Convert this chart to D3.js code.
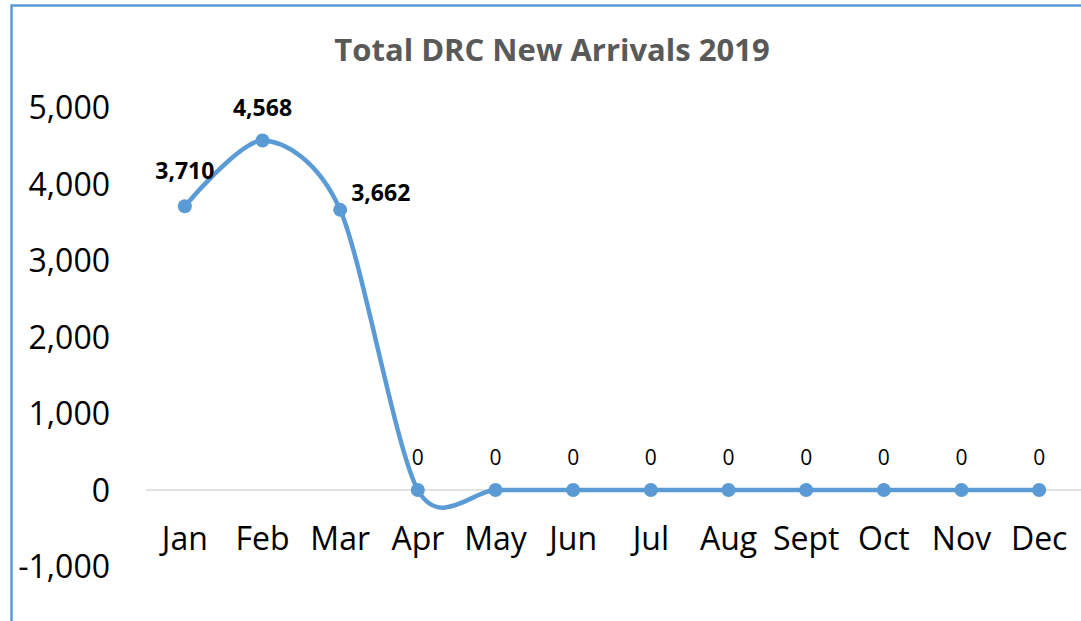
<!DOCTYPE html>
<html><head><meta charset="utf-8">
<script src="https://cdnjs.cloudflare.com/ajax/libs/d3/7.8.5/d3.min.js"></script>
<style>body{margin:0;background:#fff;}svg{display:block;}</style>
</head><body>
<svg id="chart" width="1081" height="621"></svg>
<script>
const titleText = "Total DRC New Arrivals 2019";
const months = ["Jan","Feb","Mar","Apr","May","Jun","Jul","Aug","Sept","Oct","Nov","Dec"];
const arrivals = [3710,4568,3662,0,0,0,0,0,0,0,0,0];
const yTicks = [-1000,0,1000,2000,3000,4000,5000];

const svg = d3.select("#chart");
const font = "'Open Sans', 'Noto Sans', sans-serif";

// frame
svg.append("rect").attr("x",11.5).attr("y",5.5).attr("width",1200).attr("height",1000)
  .attr("fill","none").attr("stroke","#5B9BD5").attr("stroke-width",2.5);

const x = d3.scaleBand().domain(months).range([146,1078]);
const y = d3.scaleLinear().domain([-1000,5000]).range([566.5,107.5]);

// title
svg.append("text").attr("x",552).attr("y",61).attr("text-anchor","middle")
  .attr("font-family",font).attr("font-weight","bold").attr("font-size",31)
  .attr("fill","#595959").text(titleText);

// zero gridline
svg.append("line").attr("x1",146).attr("x2",1081).attr("y1",y(0)).attr("y2",y(0))
  .attr("stroke","#D9D9D9").attr("stroke-width",1.5);

const fmt = d3.format(",");
const fmtTick = d => fmt(d).replace("\u2212","-");

// y axis
const yAxis = d3.axisLeft(y).tickValues(yTicks).tickSize(0).tickPadding(0).tickFormat(fmtTick);
const gy = svg.append("g").attr("transform","translate(110,0)").call(yAxis);
gy.select(".domain").remove();
gy.selectAll("text").attr("font-family",font).attr("font-size",32).attr("fill","#000").attr("dy","0.35em");

// x axis (labels only)
const xAxis = d3.axisBottom(x).tickSize(0).tickPadding(0);
const gx = svg.append("g").attr("transform","translate(0,527)").call(xAxis);
gx.select(".domain").remove();
gx.selectAll("text").attr("font-family",font).attr("font-size",32).attr("fill","#000").attr("dy","0.72em");

const cx = d => x(d) + x.bandwidth()/2;
const pts = months.map((m,i)=>({m, v: arrivals[i]}));

const line = d3.line().x(d=>cx(d.m)).y(d=>y(d.v)).curve(d3.curveCardinal.tension(0.15));
svg.append("path").datum(pts).attr("d",line).attr("fill","none")
  .attr("stroke","#5B9BD5").attr("stroke-width",4.5).attr("stroke-linecap","round");

svg.selectAll("circle.pt").data(pts).enter().append("circle")
  .attr("cx",d=>cx(d.m)).attr("cy",d=>y(d.v)).attr("r",7).attr("fill","#5B9BD5");

// data labels
const labelPos = [
  {dx:0, dy:-35, anchor:"middle"},
  {dx:0, dy:-33, anchor:"middle"},
  {dx:11, dy:-17, anchor:"start"}
];
svg.selectAll("text.lbl").data(pts).enter().append("text")
  .attr("x",(d,i)=> cx(d.m) + (labelPos[i] ? labelPos[i].dx : 0))
  .attr("y",(d,i)=> y(d.v) + (labelPos[i] ? labelPos[i].dy : -32))
  .attr("text-anchor",(d,i)=> labelPos[i] ? labelPos[i].anchor : "middle")
  .attr("dy","0.35em")
  .attr("font-family",font)
  .attr("font-weight",d=> d.v>0 ? "bold" : "normal")
  .attr("font-size",d=> d.v>0 ? 23 : 21)
  .attr("fill","#000")
  .text(d=>fmt(d.v));
</script>
</body></html>
